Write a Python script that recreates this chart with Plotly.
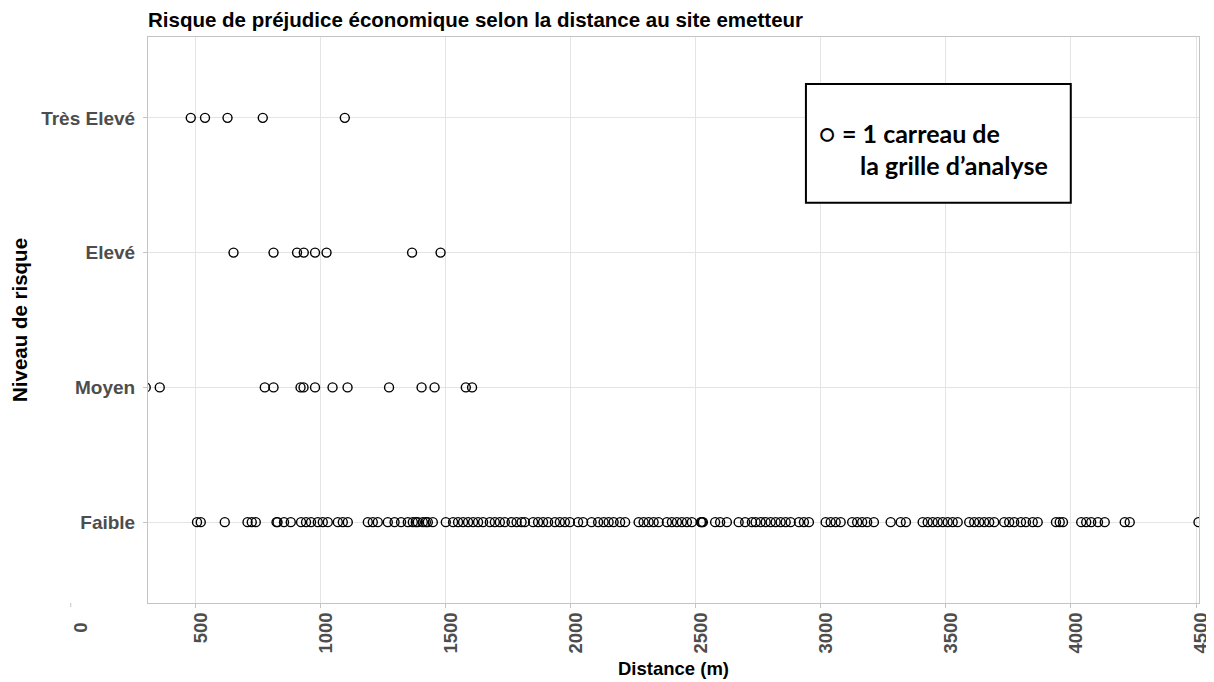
import plotly.graph_objects as go

# ---- data ----
categories = ["Faible", "Moyen", "Elevé", "Très Elevé"]

tres_eleve = [480, 537, 627, 768, 1096]
eleve = [651, 811, 905, 932, 977, 1023, 1365, 1479]
moyen = [300, 356, 776, 811, 919, 931, 977, 1047, 1107, 1273, 1403, 1455, 1580, 1605]
faible = [
    505, 520, 616, 707, 724, 740, 823, 827, 853, 880,
    921, 941, 961, 988, 1008, 1028, 1068, 1088, 1108, 1188, 1208, 1228,
    1268, 1295, 1321, 1348, 1368, 1380, 1388, 1408, 1420, 1428, 1448, 1500,
    1529, 1549, 1569, 1589, 1609, 1629, 1649, 1676, 1696, 1716, 1736, 1763,
    1783, 1803, 1816, 1849, 1869, 1889, 1909, 1936, 1956, 1976, 1996, 2029,
    2049, 2083, 2109,
    2131, 2151, 2171, 2197, 2217, 2271, 2291, 2311, 2331, 2351, 2384, 2404,
    2424, 2444, 2464, 2484, 2520, 2524, 2528, 2577, 2597, 2624, 2671, 2697, 2724,
    2739, 2759, 2779, 2799, 2819, 2839, 2859, 2879, 2912, 2932, 2952, 3019,
    3039, 3059, 3079, 3125, 3145, 3165, 3185, 3212, 3279, 3319,
    3340, 3407, 3427, 3447, 3467, 3487, 3507, 3527, 3547, 3593, 3613, 3633,
    3653, 3673, 3693, 3733, 3753, 3773, 3800, 3820, 3847, 3867, 3940,
    3955, 3968, 4041, 4061, 4081, 4108, 4135, 4215, 4235, 4510,
]

x_ticks = [500, 1000, 1500, 2000, 2500, 3000, 3500, 4000, 4500]
x_range = [309, 4512]

series = [
    ("Faible", faible),
    ("Moyen", moyen),
    ("Elevé", eleve),
    ("Très Elevé", tres_eleve),
]

fig = go.Figure()
for name, vals in series:
    fig.add_trace(go.Scatter(
        x=vals, y=[name] * len(vals), mode="markers",
        marker=dict(symbol="circle-open", size=9, color="black",
                    line=dict(width=1.4, color="black")),
        showlegend=False, hoverinfo="x+y",
    ))

FONT = "Liberation Sans, Arial, sans-serif"
grid = "#e4e4e4"
border = "#c4c4c4"
W, H = 1206, 674  # page body adds an 8px offset
MT, MB = 29, 78.5
plot_h = H - MT - MB

fig.update_layout(
    width=W, height=H,
    margin=dict(l=140, r=15, t=MT, b=MB),
    paper_bgcolor="white", plot_bgcolor="white",
    font=dict(family=FONT, color="black"),
    title=dict(text="<b>Risque de préjudice économique selon la distance au site emetteur</b>",
               x=140 / W, xanchor="left", y=1 - 12 / H, yanchor="middle",
               font=dict(size=20.5, family=FONT, color="black")),
    xaxis=dict(
        range=x_range, tickvals=x_ticks, ticktext=[f"<b>{v}</b>" for v in x_ticks],
        tickangle=-90, tickfont=dict(size=18.5, color="#4d4d4d", family=FONT),
        ticklabelshift=5, ticklabelstandoff=-3, ticklabeloverflow="allow",
        automargin=False,
        showgrid=True, gridcolor=grid, gridwidth=1,
        zeroline=False, showline=True, linecolor=border, linewidth=1, mirror=True,
        ticks="outside", ticklen=4, tickcolor=border,
    ),
    yaxis=dict(
        type="category", categoryorder="array", categoryarray=categories,
        range=[-0.6, 3.6], automargin=False,
        ticktext=[f"<b>{c}</b>" for c in categories], tickvals=categories,
        tickfont=dict(size=19, color="#4d4d4d", family=FONT),
        ticklabelstandoff=4,
        showgrid=True, gridcolor=grid, gridwidth=1,
        zeroline=False, showline=True, linecolor=border, linewidth=1, mirror=True,
        ticks="outside", ticklen=4, tickcolor=border,
        title=dict(text="<b>Niveau de risque</b>", font=dict(size=20.5, family=FONT, color="black"),
                   standoff=10),
    ),
)

# x-axis title
fig.add_annotation(xref="paper", yref="paper", x=0.5, y=-65.5 / plot_h,
                   xanchor="center", yanchor="middle", showarrow=False,
                   text="<b>Distance (m)</b>",
                   font=dict(size=18.5, family=FONT, color="black"))

# "0" tick drawn outside the panel (as in the reference)
x0_paper = (0 - x_range[0]) / (x_range[1] - x_range[0])
fig.add_annotation(x=x0_paper, xref="paper", y=0, yref="paper", yshift=-18, xshift=9,
                   text="<b>0</b>", textangle=-90, showarrow=False,
                   xanchor="center", yanchor="top",
                   font=dict(size=18.5, color="#4d4d4d", family=FONT))
fig.add_shape(type="line", xref="paper", yref="paper", x0=x0_paper, x1=x0_paper,
              y0=0, y1=-4 / plot_h, line=dict(color=border, width=1))

# legend box
fig.add_shape(type="rect", xref="paper", yref="paper",
              x0=0.626, x1=0.878, y0=0.707, y1=0.917,
              line=dict(color="black", width=2), fillcolor="white", layer="above")
LFONT = "Lato, Open Sans, sans-serif"
fig.add_annotation(xref="paper", yref="paper", x=0.637, y=0.8305, xanchor="left", yanchor="middle",
                   text="○ <b>= 1 carreau de</b>", showarrow=False,
                   font=dict(size=25, family=LFONT, color="black"))
fig.add_annotation(xref="paper", yref="paper", x=0.6755, y=0.774, xanchor="left", yanchor="middle",
                   text="<b>la grille d’analyse</b>", showarrow=False,
                   font=dict(size=25, family=LFONT, color="black"))

fig.write_html("out.html")
